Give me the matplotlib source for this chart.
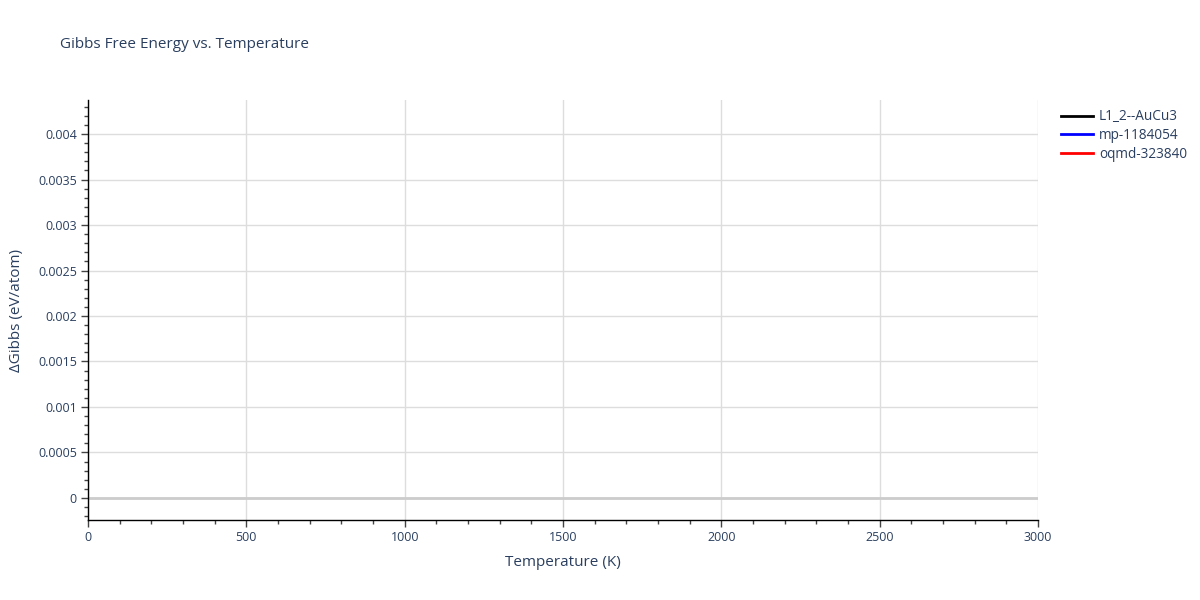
import matplotlib
matplotlib.use("Agg")
import matplotlib.pyplot as plt
from matplotlib.ticker import MultipleLocator, FuncFormatter

plt.rcParams['font.family'] = ['Open Sans', 'DejaVu Sans']

# Data: the reference chart shows the series in the legend but no visible points
series_names = ["L1_2--AuCu3", "mp-1184054", "oqmd-323840"]
series_colors = ["black", "blue", "red"]
temperature = []
gibbs_l12 = []
gibbs_mp = []
gibbs_oqmd = []
series_values = [gibbs_l12, gibbs_mp, gibbs_oqmd]

text_color = "#2a3f5f"
grid_color = "#dddddd"

fig = plt.figure(figsize=(12, 6), dpi=100)
ax = fig.add_axes([88/1200, 80/600, 950/1200, 420/600])

for name, col, vals in zip(series_names, series_colors, series_values):
    ax.plot(temperature, vals, color=col, lw=2, label=name)

ax.set_xlim(0, 3000)
ax.set_ylim(-0.000242, 0.004374)

ax.xaxis.set_major_locator(MultipleLocator(500))
ax.xaxis.set_minor_locator(MultipleLocator(100))
ax.yaxis.set_major_locator(MultipleLocator(0.0005))
ax.yaxis.set_minor_locator(MultipleLocator(0.0001))

def yfmt(v, pos):
    if abs(v) < 1e-12:
        return "0"
    s = ("%.4f" % v).rstrip("0").rstrip(".")
    return s
ax.yaxis.set_major_formatter(FuncFormatter(yfmt))
ax.xaxis.set_major_formatter(FuncFormatter(lambda v, p: "%d" % v))

ax.grid(True, which="major", color=grid_color, lw=1)
ax.set_axisbelow(True)
ax.axhline(0, color="#cccccc", lw=2, zorder=1.5)

for s in ["top", "right"]:
    ax.spines[s].set_visible(False)
for s in ["left", "bottom"]:
    ax.spines[s].set_color("black")
    ax.spines[s].set_linewidth(1)

ax.tick_params(axis="both", which="major", direction="out", length=5, width=1,
               color="#444444", labelcolor=text_color, labelsize=9, pad=3)
ax.tick_params(axis="both", which="minor", direction="out", length=3, width=1,
               color="#444444")

ax.set_xlabel("Temperature (K)", fontsize=11, color=text_color, labelpad=8)
ax.set_ylabel("ΔGibbs (eV/atom)", fontsize=11, color=text_color, labelpad=10)

fig.text(60/1200, 1 - 45/600, "Gibbs Free Energy vs. Temperature",
         fontsize=11, color=text_color, va="center", ha="left")

leg = ax.legend(loc="upper left", bbox_to_anchor=(1056/1200, 1 - 104/600),
                bbox_transform=fig.transFigure, frameon=False, fontsize=9.8,
                handlelength=2.3, handletextpad=0.45, labelspacing=0.28,
                borderaxespad=0)
for t in leg.get_texts():
    t.set_color(text_color)

fig.savefig("out.png", dpi=100)
